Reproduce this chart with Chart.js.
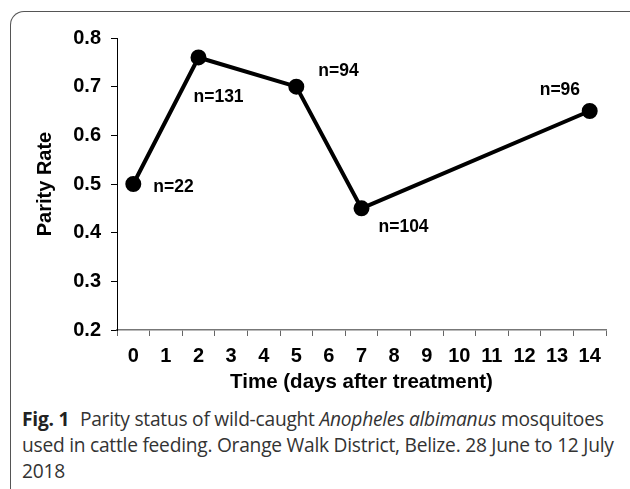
<!DOCTYPE html>
<html>
<head>
<meta charset="utf-8">
<script src="https://cdn.jsdelivr.net/npm/chart.js@4.4.1/dist/chart.umd.min.js"></script>
<style>
  html, body { margin: 0; padding: 0; background: #fff; }
  body { width: 630px; height: 489px; position: relative; overflow: hidden; }
  .frame {
    position: absolute; left: 10px; top: 11px; width: 660px; height: 520px;
    border-left: 1.5px solid #555; border-top: 1.5px solid #555;
    border-top-left-radius: 14px;
  }
  .chart-box { position: absolute; left: 0; top: 0; width: 630px; height: 400px; }
  .caption {
    position: absolute; left: 22px; top: 406px; width: 610px;
    font-family: "Open Sans", "Noto Sans", sans-serif; font-size: 19.2px;
    line-height: 26px; color: #333; white-space: nowrap; letter-spacing: -0.25px;
  }
  .caption b { color: #222; margin-right: 6px; }
</style>
</head>
<body>
<div class="frame"></div>
<div class="chart-box"><canvas id="parityChart"></canvas></div>
<div class="caption">
  <b>Fig. 1</b> Parity status of wild-caught <i>Anopheles albimanus</i> mosquitoes<br>
  used in cattle feeding. Orange Walk District, Belize. 28 June to 12 July<br>
  2018
</div>
<script>
'use strict';

// Data
const days = ['0', '1', '2', '3', '4', '5', '6', '7', '8', '9', '10', '11', '12', '13', '14'];
const sampleDays = ['0', '2', '5', '7', '14'];
const parityRates = [0.5, 0.76, 0.7, 0.45, 0.65];
const sampleSizes = ['n=22', 'n=131', 'n=94', 'n=104', 'n=96'];

const fontFamily = '"Liberation Sans", Arial, sans-serif';

// label offsets next to each point (pixels)
const labelOffsets = [[20, 3], [-5, 40], [22, -15], [17, 19], [-50, -21]];

const sampleLabels = {
  id: 'sampleLabels',
  afterDatasetsDraw(chart) {
    const ctx = chart.ctx;
    const meta = chart.getDatasetMeta(0);
    ctx.save();
    ctx.font = 'bold 17.5px ' + fontFamily;
    ctx.fillStyle = '#000';
    ctx.textAlign = 'left';
    ctx.textBaseline = 'middle';
    meta.data.forEach(function (pt, i) {
      ctx.fillText(sampleSizes[i], pt.x + labelOffsets[i][0], pt.y + labelOffsets[i][1]);
    });
    ctx.restore();
  }
};

const canvas = document.getElementById('parityChart');
new Chart(canvas, {
  type: 'line',
  data: {
    labels: days,
    datasets: [
      {
        data: sampleDays.map(function (d, i) { return { x: d, y: parityRates[i] }; }),
        borderColor: '#000',
        backgroundColor: '#000',
        borderWidth: 4,
        pointRadius: 6,
        pointHoverRadius: 6,
        tension: 0
      }
    ]
  },
  options: {
    responsive: true,
    maintainAspectRatio: false,
    animation: false,
    layout: {
      padding: { left: 33, right: 24, top: 38, bottom: 0 }
    },
    plugins: {
      legend: { display: false },
      tooltip: { enabled: false }
    },
    scales: {
      x: {
        type: 'category',
        offset: true,
        grid: {
          offset: true,
          drawOnChartArea: false,
          color: '#666',
          tickLength: 6
        },
        border: { color: '#777', width: 1.5 },
        ticks: {
          color: '#000',
          font: { family: fontFamily, size: 20, weight: 'bold' },
          padding: 8,
          maxRotation: 0,
          autoSkip: false
        },
        title: {
          display: true,
          text: 'Time (days after treatment)',
          color: '#000',
          font: { family: fontFamily, size: 20.5, weight: 'bold' },
          padding: { top: 0, bottom: 5 }
        },
        afterFit: function (scale) { scale.height = 70; }
      },
      y: {
        min: 0.2,
        max: 0.8,
        grid: {
          drawOnChartArea: false,
          color: '#000',
          tickLength: 6
        },
        border: { color: '#000', width: 1 },
        ticks: {
          stepSize: 0.1,
          color: '#000',
          font: { family: fontFamily, size: 20, weight: 'bold' },
          padding: 10,
          callback: function (v) { return v.toFixed(1); }
        },
        title: {
          display: true,
          text: 'Parity Rate',
          color: '#000',
          font: { family: fontFamily, size: 20, weight: 'bold' },
          padding: { top: 0, bottom: 0 }
        },
        afterFit: function (scale) { scale.width = 84; }
      }
    }
  },
  plugins: [sampleLabels]
});
</script>
</body>
</html>
